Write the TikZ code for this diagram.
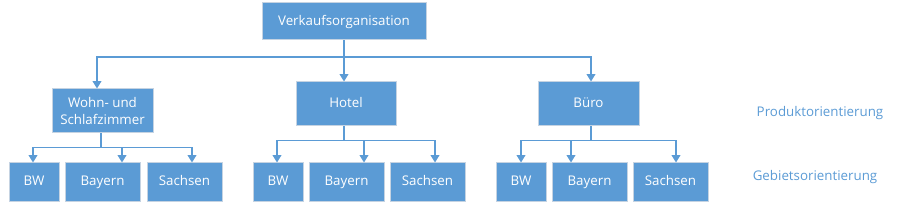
\documentclass[tikz,border=0pt]{standalone}
\usepackage{fontspec}
\setmainfont{Open Sans}
\usetikzlibrary{arrows.meta}
\definecolor{boxblue}{HTML}{5B9BD5}
\definecolor{boxedge}{HTML}{C5D3E2}
\definecolor{lblue}{HTML}{5B9BD5}
\tikzset{
  box/.style={draw=boxedge, line width=0.75pt, fill=boxblue, text=white, font=\fontsize{10}{12.5}\selectfont, align=center, inner sep=0pt},
  onel/.style={box, text height=1.45ex, text depth=0.4ex},
  conn/.style={draw=boxblue, line width=1pt},
  arr/.style={conn, -{Triangle[width=6.5pt,length=5.5pt]}},
  lbl/.style={text=lblue, font=\fontsize{10}{12}\selectfont}
}
\begin{document}
\begin{tikzpicture}[x=0.75pt,y=-0.75pt]
\useasboundingbox (0,0) rectangle (899,210);
% top
\node[onel, minimum width=164*0.75pt, minimum height=37*0.75pt] (verk) at (344,21.5) {Verkaufsorganisation};
% middle
\node[box, minimum width=101*0.75pt, minimum height=44*0.75pt] (wohn) at (102.5,111) {Wohn- und\\Schlafzimmer};
\node[onel, minimum width=100*0.75pt, minimum height=44*0.75pt] (hotel) at (346,104) {Hotel};
\node[onel, minimum width=101*0.75pt, minimum height=44*0.75pt] (buero) at (588.5,104) {Büro};
% bottom
\foreach \n/\x/\w/\t in {bwa/34/50/BW, baya/102.5/75/Bayern, saca/184.5/75/Sachsen,
                          bwb/278/50/BW, bayb/346.5/75/Bayern, sacb/427.5/75/Sachsen,
                          bwc/521/50/BW, bayc/589.5/75/Bayern, sacc/670.5/75/Sachsen}
  \node[onel, minimum width=\w*0.75pt, minimum height=38*0.75pt] (\n) at (\x,182) {\t};
% labels
\node[lbl] (prod) at (820,113) {Produktorientierung};
\node[lbl] (geb) at (815,177) {Gebietsorientierung};
% top connectors
\draw[conn] (verk.south) -- ++(0,16.5) coordinate (j0);
\draw[arr] (j0) -| ([shift={(-5.5,0)}]wohn.north);
\draw[arr] (j0) -- ([shift={(-2,0)}]hotel.north);
\draw[arr] (j0) -| ([shift={(2.5,0)}]buero.north);
% Wohn
\draw[conn] ([shift={(-1.5,0)}]wohn.south) -- ++(0,14) coordinate (j1);
\draw[arr] (j1) -| ([shift={(-1,0)}]bwa.north);
\draw[arr] (j1) -| ([shift={(19.5,0)}]baya.north);
\draw[arr] (j1) -| ([shift={(7.5,0)}]saca.north);
% Hotel
\draw[conn] ([shift={(-2,0)}]hotel.south) -- ++(0,14) coordinate (j2);
\draw[arr] (j2) -| ([shift={(-1,0)}]bwb.north);
\draw[arr] (j2) -| ([shift={(17.5,0)}]bayb.north);
\draw[arr] (j2) -| ([shift={(7.5,0)}]sacb.north);
% Buero
\draw[conn] ([shift={(2.5,0)}]buero.south) -- ++(0,14) coordinate (j3);
\draw[arr] (j3) -| (bwc.north);
\draw[arr] (j3) -| ([shift={(-18.5,0)}]bayc.north);
\draw[arr] (j3) -| ([shift={(5.5,0)}]sacc.north);
\end{tikzpicture}
\end{document}
